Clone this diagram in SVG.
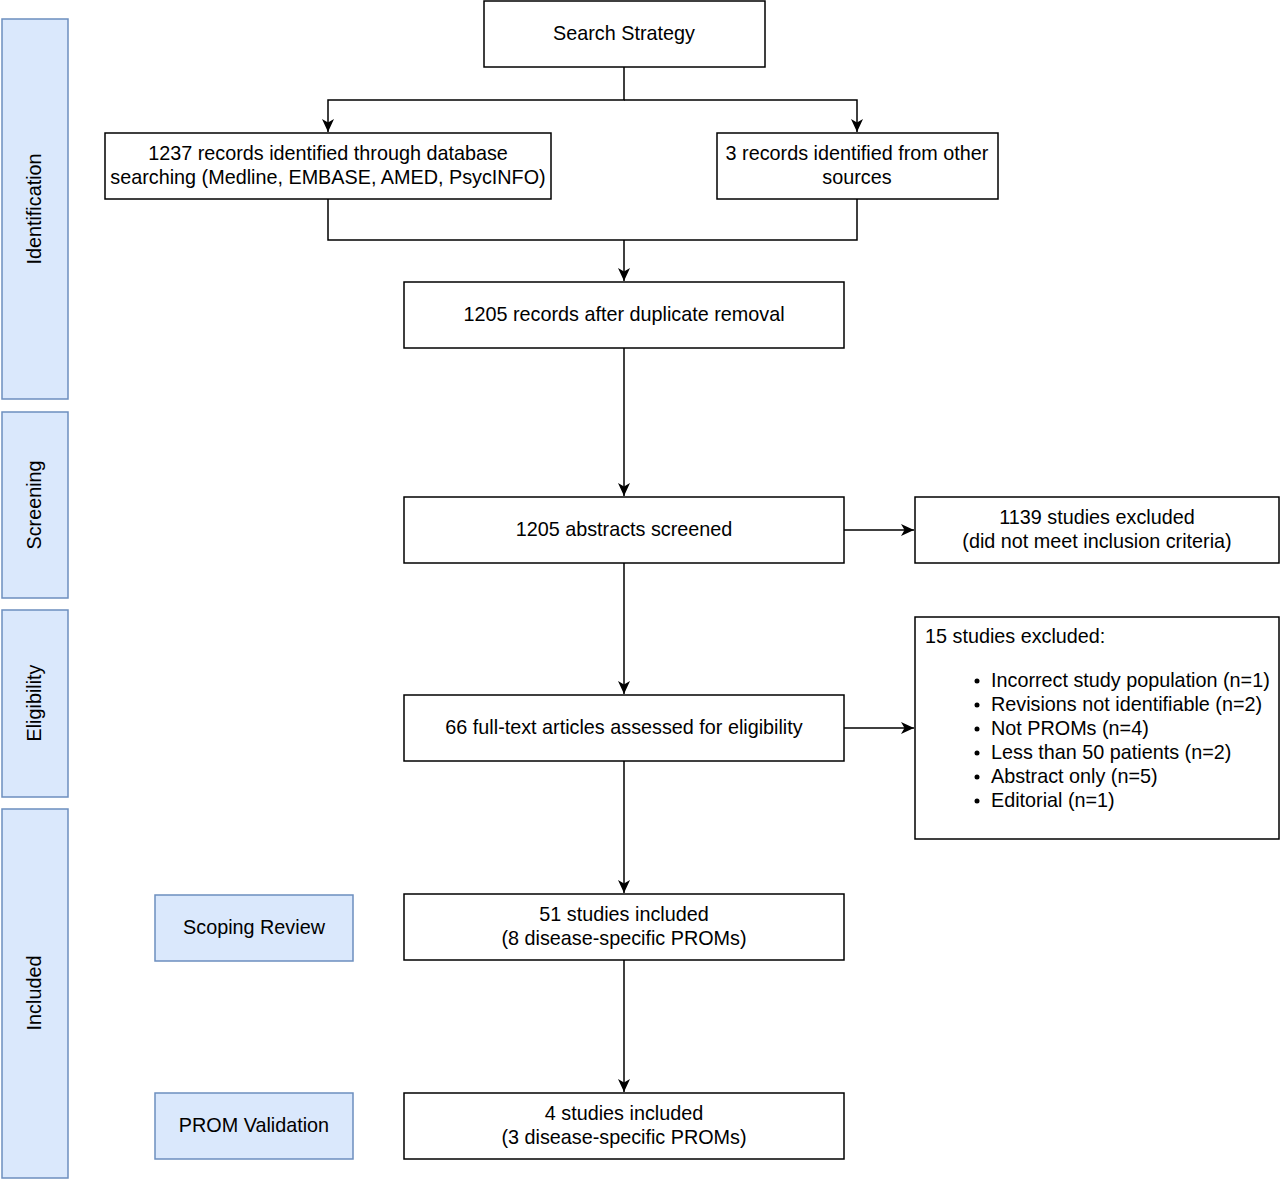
<svg xmlns="http://www.w3.org/2000/svg" width="1280" height="1181" viewBox="0 0 1280 1181">
<style>
.box{fill:#ffffff;stroke:#000000;stroke-width:1.5}
.phase{fill:#dae8fc;stroke:#6c8ebf;stroke-width:1.5}
.t{font-family:"Liberation Sans",Arial,Helvetica,sans-serif;font-size:19.8px;fill:#000000}
.c{text-anchor:middle}
.edge{fill:none;stroke:#000000;stroke-width:1.5}
</style>
<defs>
<marker id="arr" viewBox="0 0 14 14" refX="13" refY="7" markerWidth="14" markerHeight="14" markerUnits="userSpaceOnUse" orient="auto">
<path d="M0,1 L13,7 L0,13 L3.5,7 z" fill="#000000"/>
</marker>
</defs>
<rect width="1280" height="1181" fill="#ffffff"/>

<g id="phase-identification">
<rect class="phase" x="2" y="19" width="66" height="380"/>
<text class="t c" transform="translate(41,209) rotate(-90)">Identification</text>
</g>
<g id="phase-screening">
<rect class="phase" x="2" y="412" width="66" height="186"/>
<text class="t c" transform="translate(41,505) rotate(-90)">Screening</text>
</g>
<g id="phase-eligibility">
<rect class="phase" x="2" y="610" width="66" height="187"/>
<text class="t c" transform="translate(41,703) rotate(-90)">Eligibility</text>
</g>
<g id="phase-included">
<rect class="phase" x="2" y="809" width="66" height="369"/>
<text class="t c" transform="translate(41,993) rotate(-90)">Included</text>
</g>

<g id="connectors">
<path class="edge" d="M624,67 V100 H328 V132" marker-end="url(#arr)"/>
<path class="edge" d="M624,100 H857 V132" marker-end="url(#arr)"/>
<path class="edge" d="M328,199 V240 H857 V199"/>
<path class="edge" d="M624,240 V281" marker-end="url(#arr)"/>
<path class="edge" d="M624,348 V496" marker-end="url(#arr)"/>
<path class="edge" d="M844,530 H914" marker-end="url(#arr)"/>
<path class="edge" d="M624,563 V694" marker-end="url(#arr)"/>
<path class="edge" d="M844,728 H914" marker-end="url(#arr)"/>
<path class="edge" d="M624,761 V893" marker-end="url(#arr)"/>
<path class="edge" d="M624,960 V1092" marker-end="url(#arr)"/>
</g>

<g id="search-strategy">
<rect class="box" x="484" y="1" width="281" height="66"/>
<text class="t c" x="624" y="40">Search Strategy</text>
</g>
<g id="database-records">
<rect class="box" x="105" y="133" width="446" height="66"/>
<text class="t c" x="328" y="160">1237 records identified through database</text>
<text class="t c" x="328" y="184">searching (Medline, EMBASE, AMED, PsycINFO)</text>
</g>
<g id="other-records">
<rect class="box" x="717" y="133" width="281" height="66"/>
<text class="t c" x="857" y="160">3 records identified from other</text>
<text class="t c" x="857" y="184">sources</text>
</g>
<g id="after-duplicates">
<rect class="box" x="404" y="282" width="440" height="66"/>
<text class="t c" x="624" y="321">1205 records after duplicate removal</text>
</g>
<g id="abstracts-screened">
<rect class="box" x="404" y="497" width="440" height="66"/>
<text class="t c" x="624" y="536">1205 abstracts screened</text>
</g>
<g id="excluded-1139">
<rect class="box" x="915" y="497" width="364" height="66"/>
<text class="t c" x="1097" y="524">1139 studies excluded</text>
<text class="t c" x="1097" y="548">(did not meet inclusion criteria)</text>
</g>
<g id="full-text">
<rect class="box" x="404" y="695" width="440" height="66"/>
<text class="t c" x="624" y="734">66 full-text articles assessed for eligibility</text>
</g>
<g id="excluded-15">
<rect class="box" x="915" y="617" width="364" height="222"/>
<text class="t" x="925" y="643">15 studies excluded:</text>
<circle cx="977" cy="681" r="2.5"/>
<text class="t" x="991" y="687">Incorrect study population (n=1)</text>
<circle cx="977" cy="705" r="2.5"/>
<text class="t" x="991" y="711">Revisions not identifiable (n=2)</text>
<circle cx="977" cy="729" r="2.5"/>
<text class="t" x="991" y="735">Not PROMs (n=4)</text>
<circle cx="977" cy="753" r="2.5"/>
<text class="t" x="991" y="759">Less than 50 patients (n=2)</text>
<circle cx="977" cy="777" r="2.5"/>
<text class="t" x="991" y="783">Abstract only (n=5)</text>
<circle cx="977" cy="801" r="2.5"/>
<text class="t" x="991" y="807">Editorial (n=1)</text>
</g>
<g id="scoping-review">
<rect class="phase" x="155" y="895" width="198" height="66"/>
<text class="t c" x="254" y="934">Scoping Review</text>
</g>
<g id="included-51">
<rect class="box" x="404" y="894" width="440" height="66"/>
<text class="t c" x="624" y="921">51 studies included</text>
<text class="t c" x="624" y="945">(8 disease-specific PROMs)</text>
</g>
<g id="prom-validation">
<rect class="phase" x="155" y="1093" width="198" height="66"/>
<text class="t c" x="254" y="1132">PROM Validation</text>
</g>
<g id="included-4">
<rect class="box" x="404" y="1093" width="440" height="66"/>
<text class="t c" x="624" y="1120">4 studies included</text>
<text class="t c" x="624" y="1144">(3 disease-specific PROMs)</text>
</g>
</svg>
